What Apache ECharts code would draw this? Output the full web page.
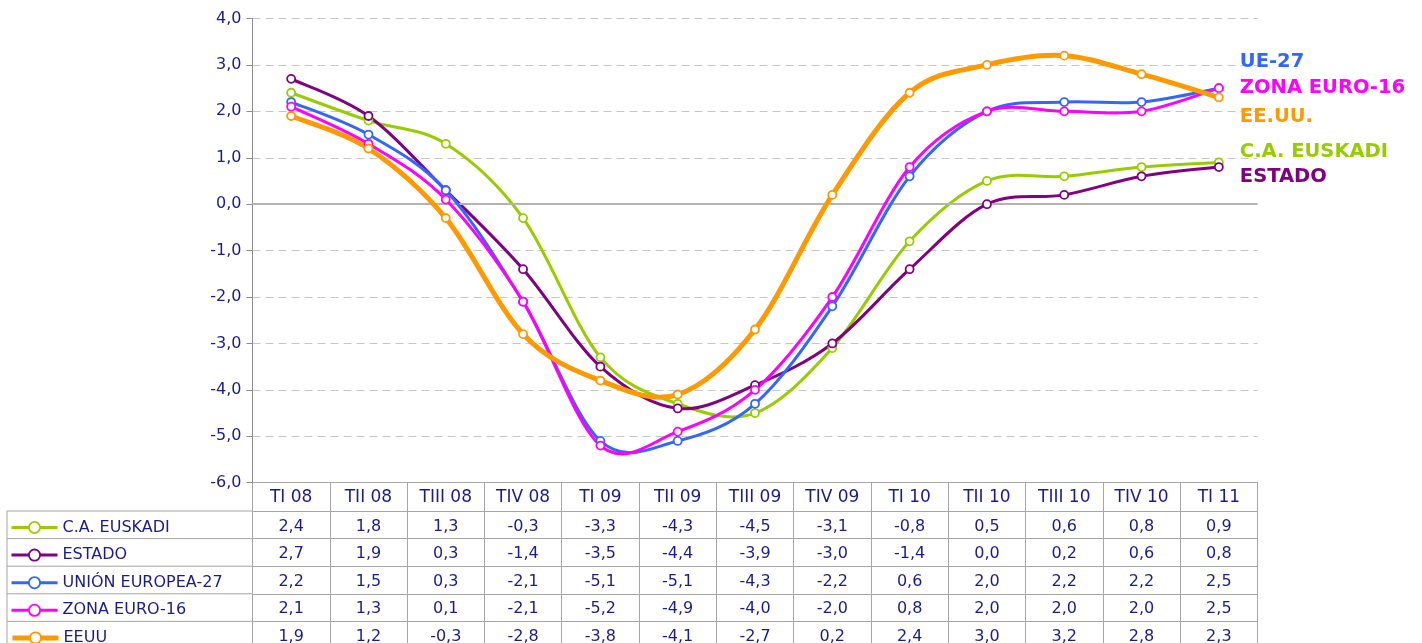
<!DOCTYPE html>
<html>
<head>
<meta charset="utf-8">
<script src="https://cdn.jsdelivr.net/npm/echarts@6/dist/echarts.min.js"></script>
<style>
  html, body { margin: 0; padding: 0; background: #fff; }
  #chart { width: 1422px; height: 643px; }
</style>
</head>
<body>
<div id="chart"></div>
<script>
const categories = ['TI 08', 'TII 08', 'TIII 08', 'TIV 08', 'TI 09', 'TII 09', 'TIII 09', 'TIV 09', 'TI 10', 'TII 10', 'TIII 10', 'TIV 10', 'TI 11'];

const euskadi = [2.4, 1.8, 1.3, -0.3, -3.3, -4.3, -4.5, -3.1, -0.8, 0.5, 0.6, 0.8, 0.9];
const estado = [2.7, 1.9, 0.3, -1.4, -3.5, -4.4, -3.9, -3.0, -1.4, 0.0, 0.2, 0.6, 0.8];
const ue27 = [2.2, 1.5, 0.3, -2.1, -5.1, -5.1, -4.3, -2.2, 0.6, 2.0, 2.2, 2.2, 2.5];
const euro16 = [2.1, 1.3, 0.1, -2.1, -5.2, -4.9, -4.0, -2.0, 0.8, 2.0, 2.0, 2.0, 2.5];
const eeuu = [1.9, 1.2, -0.3, -2.8, -3.8, -4.1, -2.7, 0.2, 2.4, 3.0, 3.2, 2.8, 2.3];

const seriesNames = ['C.A. EUSKADI', 'ESTADO', 'UNIÓN EUROPEA-27', 'ZONA EURO-16', 'EEUU'];
const endNames = ['C.A. EUSKADI', 'ESTADO', 'UE-27', 'ZONA EURO-16', 'EE.UU.'];
const rows = [euskadi, estado, ue27, euro16, eeuu];

const colors = ['#99cc00', '#800080', '#3366ff', '#ff00ff', '#ff9900'];
const widths = [3, 3, 3, 3, 5];
const endOffsets = [[13, -10], [13, 10], [13, -26], [13, 0], [13, 20]];

const navy = '#1c1c86';
const border = '#a6a6a6';
const font = 'DejaVu Sans';

const fmt = v => v.toFixed(1).replace('.', ',');

// table geometry
const gridLeft = 252.5, gridRight = 164.5, gridTop = 18.5, gridBottom = 160.3;
const headH = 28.3, rowH = 27.6;
const tableTop = 643 - gridBottom;

const chart = echarts.init(document.getElementById('chart'));

const xAxes = [{
    type: 'category',
    data: categories,
    position: 'bottom',
    boundaryGap: true,
    axisLine: { show: true, onZero: false, lineStyle: { color: border, width: 1 } },
    axisTick: { show: true, interval: 0, length: headH, lineStyle: { color: border } },
    axisLabel: { interval: 0, color: navy, fontFamily: font, fontSize: 17, margin: 6 }
}];
rows.forEach((r, k) => {
    xAxes.push({
        type: 'category',
        data: categories,
        position: 'bottom',
        offset: headH + rowH * k,
        boundaryGap: true,
        axisLine: { show: true, onZero: false, lineStyle: { color: border, width: 1 } },
        axisTick: { show: true, interval: 0, length: rowH, lineStyle: { color: border } },
        axisLabel: {
            interval: 0, color: navy, fontFamily: font, fontSize: 16, margin: 7.5,
            formatter: (v, i) => fmt(r[i])
        }
    });
});

// Excel-like smoothing: Catmull-Rom segments in pixel space
function curveRenderer(r, k) {
    return function (params, api) {
        const i = params.dataIndex;
        if (i >= r.length - 1) return null;
        const p = j => {
            const jj = Math.max(0, Math.min(r.length - 1, j));
            return api.coord([jj, r[jj]]);
        };
        const p0 = p(i - 1), p1 = p(i), p2 = p(i + 1), p3 = p(i + 2);
        const t = 1 / 6;
        return {
            type: 'bezierCurve',
            shape: {
                x1: p1[0], y1: p1[1], x2: p2[0], y2: p2[1],
                cpx1: p1[0] + (p2[0] - p0[0]) * t, cpy1: p1[1] + (p2[1] - p0[1]) * t,
                cpx2: p2[0] - (p3[0] - p1[0]) * t, cpy2: p2[1] - (p3[1] - p1[1]) * t
            },
            style: { stroke: colors[k], lineWidth: widths[k], fill: null, lineCap: 'round' },
            silent: true
        };
    };
}

const series = [];
// marker series first so the legends take their line + circle icon
rows.forEach((r, k) => {
    series.push({
        name: seriesNames[k],
        type: 'line',
        data: r,
        symbol: 'circle',
        symbolSize: 8,
        itemStyle: { color: '#ffffff', borderColor: colors[k], borderWidth: 1.8 },
        lineStyle: { color: colors[k], width: 0, opacity: 0 },
        endLabel: {
            show: true,
            formatter: endNames[k],
            color: colors[k],
            fontFamily: font,
            fontWeight: 'bold',
            fontSize: 19.5,
            offset: endOffsets[k]
        },
        markLine: k === 0 ? {
            silent: true,
            symbol: 'none',
            label: { show: false },
            lineStyle: { color: '#b3b3b3', type: 'solid', width: 2 },
            data: [{ yAxis: 0 }]
        } : undefined,
        z: 10 + k
    });
});
rows.forEach((r, k) => {
    series.push({
        name: seriesNames[k],
        type: 'custom',
        data: r.map((v, i) => [i, v]),
        encode: { x: 0, y: 1 },
        renderItem: curveRenderer(r, k),
        clip: false,
        z: 3 + k
    });
});

// one legend per table row
const legends = seriesNames.map((name, k) => ({
    orient: 'horizontal',
    left: 10,
    top: tableTop + headH + rowH * k + 15.5 - 7,
    padding: 0,
    itemWidth: 46,
    itemHeight: 14,
    data: [name],
    selectedMode: false,
    lineStyle: { color: colors[k], width: widths[k], opacity: 1 },
    itemStyle: { color: '#ffffff', borderColor: colors[k], borderWidth: 1.8 },
    textStyle: { color: navy, fontFamily: font, fontSize: 16 }
}));

const graphics = [];
const left = 7;
for (let k = 0; k <= 4; k++) {
    const y = tableTop + headH + rowH * k;
    graphics.push({
        type: 'line', silent: true,
        shape: { x1: left, y1: y, x2: gridLeft, y2: y },
        style: { stroke: border, lineWidth: 1 }
    });
}
graphics.push({
    type: 'line', silent: true,
    shape: { x1: left, y1: tableTop + headH, x2: left, y2: 643 },
    style: { stroke: border, lineWidth: 1 }
});

chart.setOption({
    animation: false,
    backgroundColor: '#ffffff',
    color: colors,
    grid: {
        left: gridLeft, right: gridRight, top: gridTop, bottom: gridBottom,
        containLabel: false, outerBoundsMode: 'none'
    },
    legend: legends,
    xAxis: xAxes,
    yAxis: {
        type: 'value',
        min: -6,
        max: 4,
        interval: 1,
        axisLine: { show: true, lineStyle: { color: '#8c8c8c', width: 1 } },
        axisTick: { show: true, length: 6, lineStyle: { color: '#8c8c8c' } },
        axisLabel: { color: navy, fontFamily: font, fontSize: 16, margin: 11, formatter: v => fmt(v) },
        splitLine: { show: true, lineStyle: { color: '#c6c6c6', type: [8, 5], width: 1 } }
    },
    graphic: graphics,
    series: series
});

window.addEventListener('resize', () => chart.resize());
</script>
</body>
</html>
